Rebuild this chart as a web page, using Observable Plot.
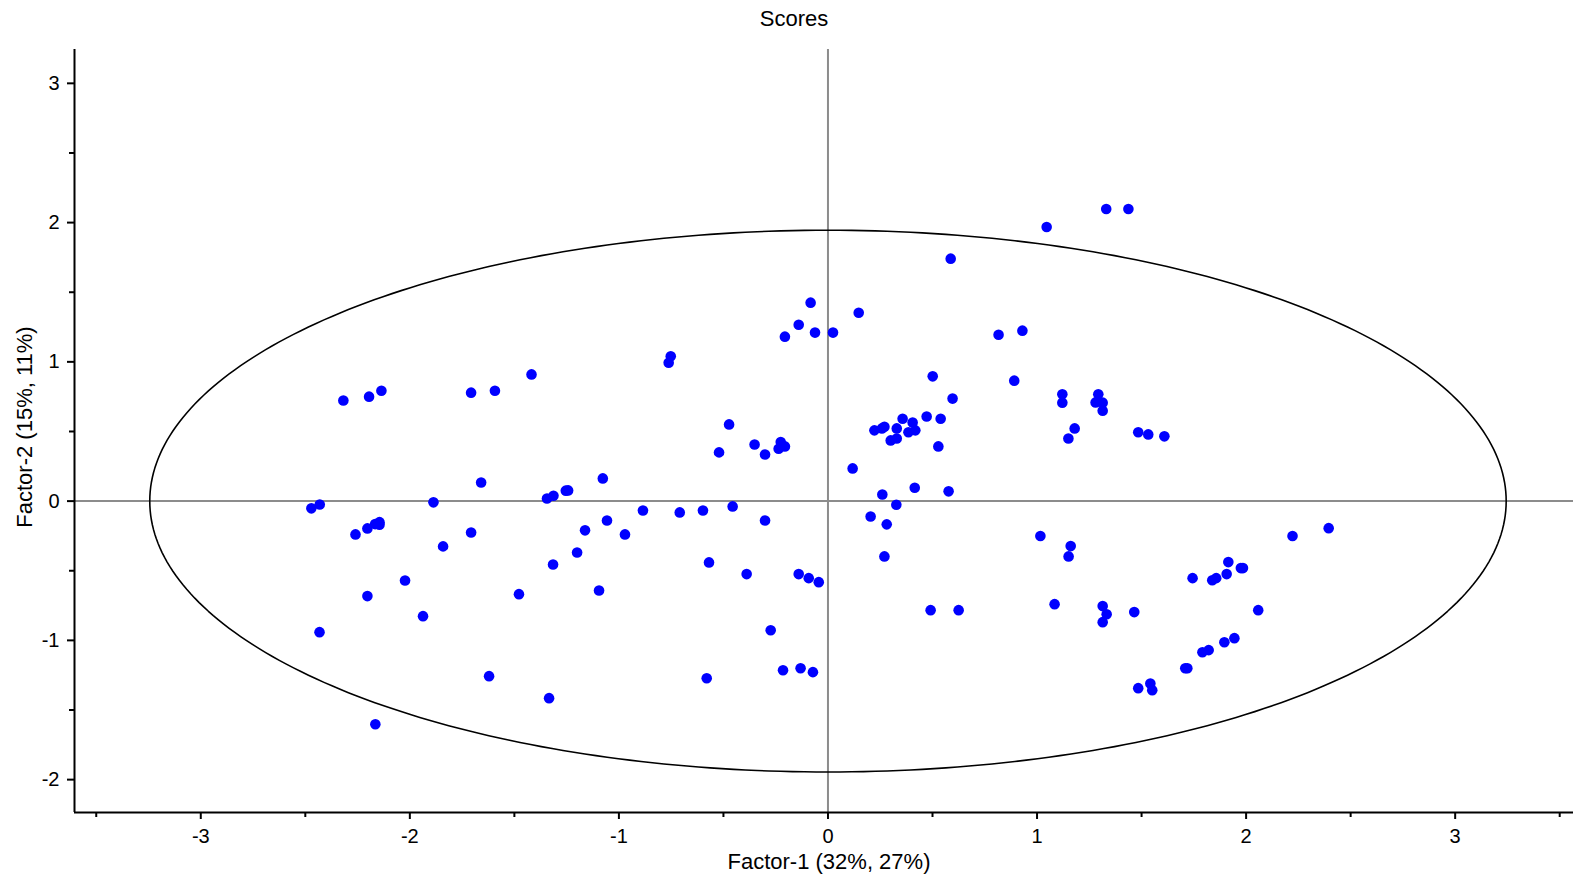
<!DOCTYPE html>
<html>
<head>
<meta charset="utf-8">
<script src="https://cdn.jsdelivr.net/npm/d3@7"></script>
<script src="https://cdn.jsdelivr.net/npm/@observablehq/plot@0.6"></script>
<style>
  html, body { margin: 0; padding: 0; background: #fff; }
  #wrap { position: relative; width: 1573px; height: 881px; overflow: hidden; font-family: "Liberation Sans", Arial, sans-serif; }
  #title { position: absolute; top: 6px; left: 794px; transform: translateX(-50%); font-size: 22px; color: #000; white-space: nowrap; }
  #chart { position: absolute; top: 0; left: 0; }
</style>
</head>
<body>
<div id="wrap">
  <div id="chart"></div>
  <div id="title">Scores</div>
</div>
<script>
// Score values (Factor-1, Factor-2)
const factor1 = [
  -0.752, -0.762, -1.418, -2.136, -2.195, -2.318, -1.707, -1.593, -1.659, -1.077,
  -1.243, -1.254, -1.313, -1.344, -1.887, -2.431, -2.471, -2.260, -2.203, -2.166,
  -2.145, -2.145, -1.707, -1.841, -0.885, -0.709, -1.057, -1.162, -0.971, -1.200,
  -1.315, -2.023, -2.203, -1.937, -1.478, -1.095, -2.432, -1.621, -1.334, -2.165,
  -0.083, 0.147, -0.140, -0.206, -0.062, 0.024, -0.473, -0.521, -0.351, -0.301,
  -0.226, -0.206, -0.236, 0.118, 0.222, 0.270, 0.258, 0.329, 0.357, 0.300,
  0.329, 0.405, 0.472, 0.539, 0.385, 0.418, 0.528, 0.260, 0.327, 0.204,
  0.281, 0.270, -0.598, -0.456, -0.301, -0.569, -0.389, -0.140, -0.092, -0.044,
  -0.274, -0.215, -0.131, -0.072, -0.580, 1.331, 1.437, 1.046, 0.587, 0.816,
  0.930, 0.501, 0.891, 0.596, 1.121, 1.121, 1.293, 1.280, 1.314, 1.314,
  1.180, 1.150, 1.484, 1.532, 1.609, 0.415, 0.577, 0.491, 0.625, 1.016,
  1.161, 1.151, 1.084, 1.314, 1.333, 1.314, 1.465, 1.744, 1.838, 1.857,
  1.791, 1.821, 1.719, 1.709, 1.484, 1.542, 1.551, 2.395, 2.222, 1.915,
  1.975, 1.985, 1.907, 2.058, 1.944, 1.896
];
const factor2 = [
  1.040, 0.994, 0.910, 0.793, 0.750, 0.723, 0.779, 0.793, 0.134, 0.163,
  0.077, 0.075, 0.039, 0.019, -0.009, -0.024, -0.052, -0.239, -0.196, -0.165,
  -0.151, -0.170, -0.225, -0.325, -0.067, -0.081, -0.139, -0.210, -0.239, -0.369,
  -0.455, -0.570, -0.682, -0.826, -0.668, -0.642, -0.941, -1.257, -1.415, -1.602,
  1.425, 1.353, 1.267, 1.181, 1.210, 1.210, 0.551, 0.350, 0.407, 0.335,
  0.424, 0.393, 0.376, 0.235, 0.508, 0.534, 0.522, 0.522, 0.592, 0.436,
  0.450, 0.565, 0.608, 0.592, 0.494, 0.508, 0.393, 0.048, -0.026, -0.110,
  -0.167, -0.397, -0.067, -0.038, -0.139, -0.440, -0.524, -0.524, -0.553, -0.582,
  -0.927, -1.214, -1.200, -1.228, -1.272, 2.098, 2.098, 1.968, 1.741, 1.195,
  1.224, 0.896, 0.865, 0.736, 0.767, 0.707, 0.767, 0.709, 0.707, 0.649,
  0.522, 0.450, 0.494, 0.479, 0.465, 0.096, 0.070, -0.783, -0.783, -0.251,
  -0.323, -0.397, -0.740, -0.754, -0.812, -0.869, -0.797, -0.553, -0.568, -0.553,
  -1.085, -1.070, -1.200, -1.200, -1.343, -1.310, -1.358, -0.194, -0.251, -0.438,
  -0.481, -0.481, -0.524, -0.783, -0.984, -1.013
];

// Axis ticks
const xTicks = [-3, -2, -1, 0, 1, 2, 3];
const xMinorTicks = [-3.5, -2.5, -1.5, -0.5, 0.5, 1.5, 2.5, 3.5];
const yTicks = [-2, -1, 0, 1, 2, 3];
const yMinorTicks = [-1.5, -0.5, 0.5, 1.5, 2.5];

// Confidence ellipse semi-axes
const ellipseA = 3.244;
const ellipseB = 1.945;

const xDomain = [-3.604, 3.566];
const yDomain = [-2.236, 3.243];

const points = factor1.map((v, i) => ({x: v, y: factor2[i]}));
const ellipse = d3.range(0, 361).map(t => {
  const a = t * Math.PI / 180;
  return {x: ellipseA * Math.cos(a), y: ellipseB * Math.sin(a)};
});

const fmt = d => String(d);

const chart = Plot.plot({
  width: 1573,
  height: 881,
  marginLeft: 74,
  marginRight: 0,
  marginTop: 49,
  marginBottom: 69,
  style: {fontFamily: "'Liberation Sans', Arial, sans-serif", fontSize: "20px", background: "white", overflow: "visible"},
  x: {domain: xDomain, axis: null},
  y: {domain: yDomain, axis: null},
  marks: [
    Plot.ruleX([0], {stroke: "#8c8c8c", strokeWidth: 2}),
    Plot.ruleY([0], {stroke: "#8c8c8c", strokeWidth: 2}),
    Plot.line(ellipse, {x: "x", y: "y", stroke: "black", strokeWidth: 1.6}),
    Plot.dot(points, {x: "x", y: "y", r: 5.3, fill: "#0000ff", stroke: "none"}),
    Plot.ruleY([yDomain[0]], {stroke: "black", strokeWidth: 2}),
    Plot.ruleX([xDomain[0]], {stroke: "black", strokeWidth: 2}),
    Plot.axisX(xTicks, {tickSize: 7, tickPadding: 9, tickFormat: fmt, fontSize: 20, label: null, strokeWidth: 2}),
    Plot.axisX(xMinorTicks, {tickSize: 5, tickFormat: () => "", label: null, strokeWidth: 2}),
    Plot.axisY(yTicks, {tickSize: 7, tickPadding: 8, tickFormat: fmt, fontSize: 20, label: null, strokeWidth: 2}),
    Plot.axisY(yMinorTicks, {tickSize: 5, tickFormat: () => "", label: null, strokeWidth: 2}),
    Plot.text(["Factor-1 (32%, 27%)"], {frameAnchor: "bottom", lineAnchor: "middle", textAnchor: "middle", dy: 49, dx: 5, fontSize: 22, fill: "black"}),
    Plot.text(["Factor-2 (15%, 11%)"], {frameAnchor: "left", lineAnchor: "middle", textAnchor: "middle", dx: -50, dy: -4, rotate: -90, fontSize: 22, fill: "black"})
  ]
});
document.getElementById("chart").appendChild(chart);
</script>
</body>
</html>
